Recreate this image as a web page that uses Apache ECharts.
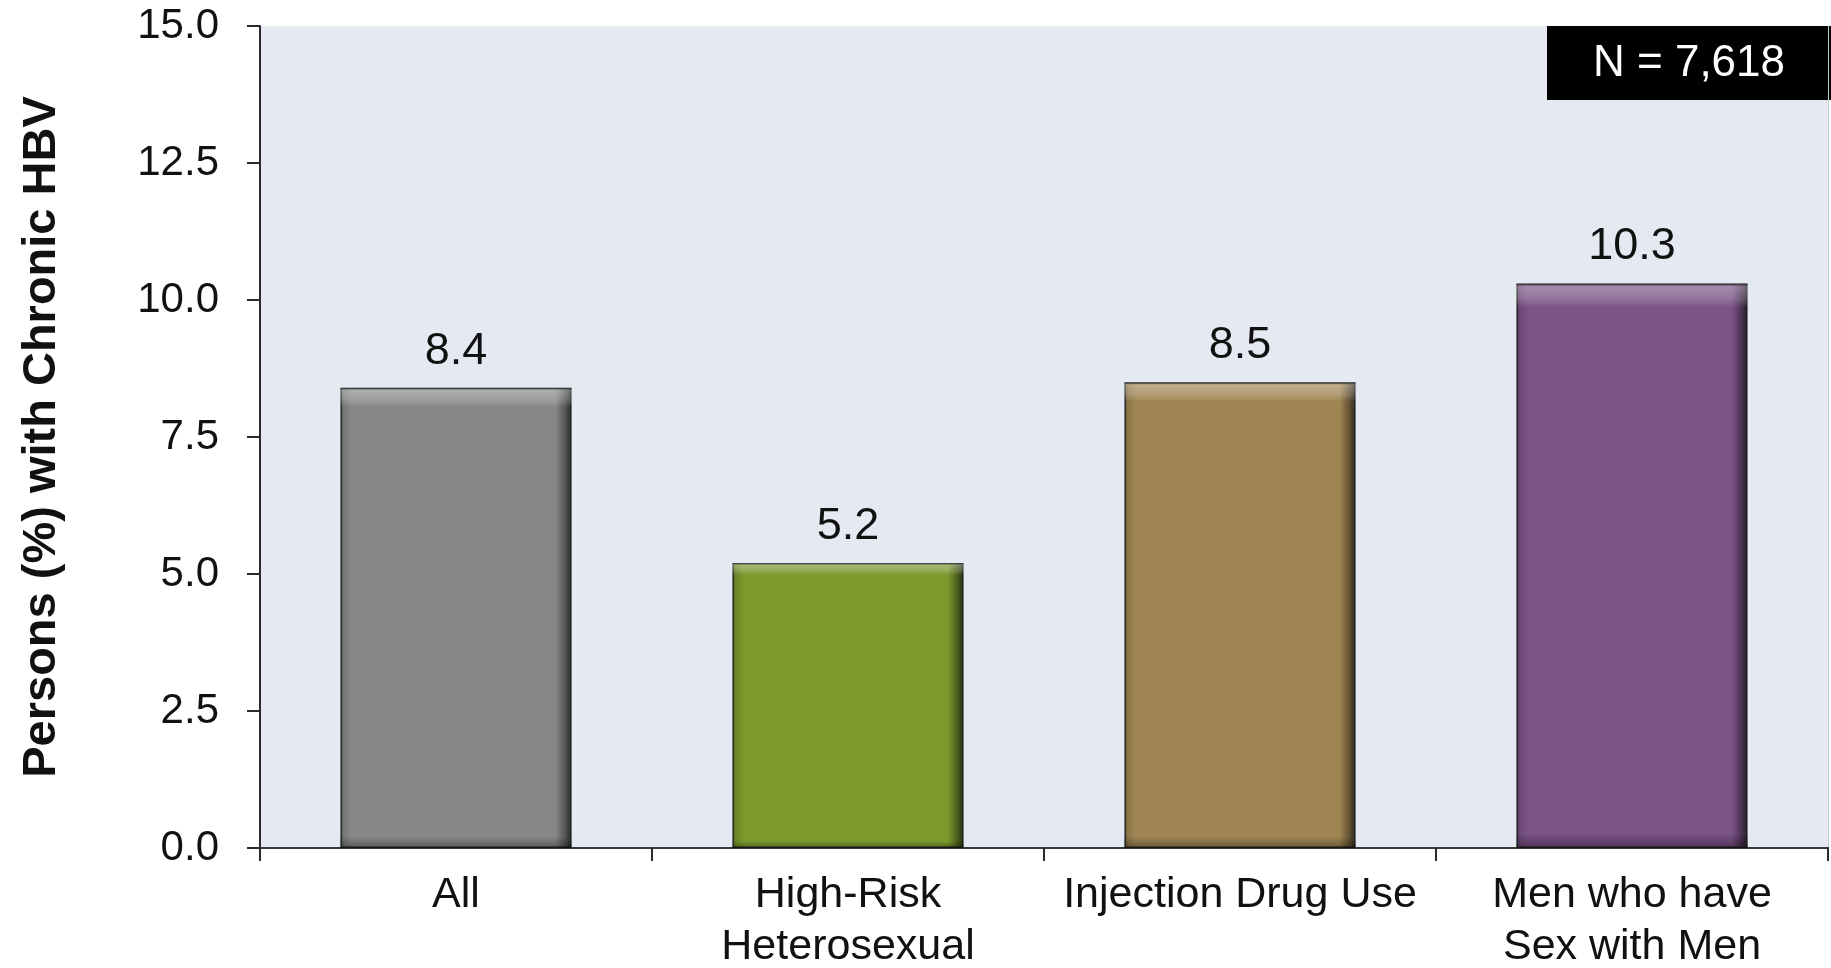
<!DOCTYPE html>
<html>
<head>
<meta charset="utf-8">
<title>Chronic HBV by risk group</title>
<script src="https://cdn.jsdelivr.net/npm/echarts@6/dist/echarts.min.js"></script>
<style>
  html, body { margin: 0; padding: 0; background: #ffffff; }
  #chart { width: 1831px; height: 968px; }
</style>
</head>
<body>
<div id="chart"></div>
<script>
// Risk groups along the x axis
const categories = ['All', 'High-Risk\nHeterosexual', 'Injection Drug Use', 'Men who have\nSex with Men'];
// Percent of persons with chronic HBV in each group
const values = [8.4, 5.2, 8.5, 10.3];
// Value axis range and step
const yMin = 0;
const yMax = 15;
const yStep = 2.5;
// Total sample size shown in the corner badge
const sampleLabel = 'N = 7,618';

const palette = ['#878787', '#7b992d', '#a08553', '#7b5387'];
const FONT = '"Liberation Sans", Arial, sans-serif';

function shade(hex, f) {
  const n = parseInt(hex.slice(1), 16);
  let r = (n >> 16) & 255, g = (n >> 8) & 255, b = n & 255;
  const mix = f >= 0 ? 255 : 0, k = Math.abs(f);
  r = Math.round(r + (mix - r) * k);
  g = Math.round(g + (mix - g) * k);
  b = Math.round(b + (mix - b) * k);
  return 'rgb(' + r + ',' + g + ',' + b + ')';
}

// Main bar fill: flat body with darker left and right bevels
const baseData = values.map((v, i) => ({
  value: v,
  itemStyle: {
    color: {
      type: 'linear', x: 0, y: 0, x2: 1, y2: 0,
      colorStops: [
        { offset: 0, color: shade(palette[i], -0.3) },
        { offset: 0.02, color: shade(palette[i], -0.1) },
        { offset: 0.05, color: palette[i] },
        { offset: 0.93, color: palette[i] },
        { offset: 0.97, color: shade(palette[i], -0.35) },
        { offset: 1, color: shade(palette[i], -0.7) }
      ]
    }
  }
}));

// Overlay for the top highlight and bottom shadow of each bevelled bar
const bevelData = values.map(v => ({
  value: v,
  itemStyle: {
    color: {
      type: 'linear', x: 0, y: 0, x2: 0, y2: 1,
      colorStops: [
        { offset: 0, color: 'rgba(40,40,40,0.35)' },
        { offset: 0.006, color: 'rgba(255,255,255,0.32)' },
        { offset: 0.028, color: 'rgba(255,255,255,0.18)' },
        { offset: 0.042, color: 'rgba(255,255,255,0)' },
        { offset: 0.975, color: 'rgba(0,0,0,0)' },
        { offset: 1, color: 'rgba(0,0,0,0.35)' }
      ]
    }
  }
}));

const chart = echarts.init(document.getElementById('chart'), null, { renderer: 'canvas' });

chart.setOption({
  backgroundColor: '#ffffff',
  animation: false,
  textStyle: { fontFamily: FONT },
  grid: {
    left: 260, right: 3, top: 26, bottom: 120,
    outerBoundsMode: 'none',
    containLabel: false,
    show: true, backgroundColor: '#e5e9f2', borderWidth: 0
  },
  xAxis: [{
    type: 'category',
    data: categories,
    position: 'bottom',
    axisLine: { show: true, lineStyle: { color: '#2b2b2b', width: 2 } },
    axisTick: { show: true, length: 13, lineStyle: { color: '#2b2b2b', width: 2 } },
    axisLabel: {
      color: '#111111', fontSize: 43, fontFamily: FONT,
      lineHeight: 52, margin: 21, interval: 0
    },
    splitLine: { show: false }
  }, {
    type: 'category',
    data: categories,
    position: 'top',
    axisLine: { show: true, lineStyle: { color: '#3a3a3a', width: 2 } },
    axisTick: { show: false },
    axisLabel: { show: false }
  }],
  yAxis: [{
    type: 'value',
    min: yMin, max: yMax, interval: yStep,
    name: 'Persons (%) with Chronic HBV',
    nameLocation: 'middle',
    nameRotate: 90,
    nameGap: 194,
    nameTextStyle: { color: '#111111', fontSize: 47, fontWeight: 'bold', fontFamily: FONT },
    axisLine: { show: true, lineStyle: { color: '#2b2b2b', width: 2 } },
    axisTick: { show: true, length: 13, lineStyle: { color: '#2b2b2b', width: 2 } },
    axisLabel: {
      color: '#111111', fontSize: 42, fontFamily: FONT, margin: 41,
      formatter: v => v.toFixed(1)
    },
    splitLine: { show: false }
  }, {
    type: 'value',
    min: yMin, max: yMax, interval: yStep,
    position: 'right',
    axisLine: { show: true, lineStyle: { color: '#c8ccd4', width: 1 } },
    axisTick: { show: false },
    axisLabel: { show: false },
    splitLine: { show: false }
  }],
  series: [{
    type: 'bar',
    data: baseData,
    barWidth: '59%',
    itemStyle: { borderColor: 'rgba(25,25,25,0.85)', borderWidth: 1.5 },
    label: {
      show: true, position: 'top', distance: 14,
      color: '#111111', fontSize: 45, fontFamily: FONT,
      formatter: p => p.value.toFixed(1)
    },
    z: 2
  }, {
    type: 'bar',
    data: bevelData,
    barWidth: '59%',
    barGap: '-100%',
    silent: true,
    label: { show: false },
    z: 3
  }],
  graphic: [{
    type: 'group',
    right: 0,
    top: 26,
    z: 100,
    children: [{
      type: 'rect',
      shape: { x: 0, y: 0, width: 284, height: 74 },
      style: { fill: '#000000' }
    }, {
      type: 'text',
      x: 142, y: 38,
      style: {
        text: sampleLabel, fill: '#ffffff', fontSize: 44, fontFamily: FONT,
        align: 'center', verticalAlign: 'middle'
      }
    }]
  }]
});
</script>
</body>
</html>
